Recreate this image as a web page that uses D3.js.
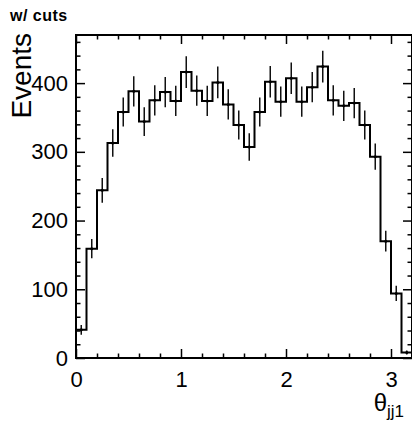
<!DOCTYPE html>
<html lang="en">
  <head>
    <meta charset="utf-8" />
    <title>theta jj1 w/ cuts</title>
    <script src="https://d3js.org/d3.v7.min.js" charset="utf-8"></script>
    <style>
      body { margin: 0; background: #fff; }
      svg { display: block; font-family: "Liberation Sans", Arial, Helvetica, sans-serif; }
      .axis path { stroke: none; }
      .axis line { stroke: #000; stroke-width: 1.5; }
      .axis text { font-size: 22px; fill: #000; }
    </style>
  </head>
  <body>
    <div id="svg-container"></div>
    <script>
      // histogram bins (theta_jj1, 32 bins of 0.1 from 0 to 3.2)
      const binEdgesLow = [0.0, 0.1, 0.2, 0.3, 0.4, 0.5, 0.6, 0.7, 0.8, 0.9,
                           1.0, 1.1, 1.2, 1.3, 1.4, 1.5, 1.6, 1.7, 1.8, 1.9,
                           2.0, 2.1, 2.2, 2.3, 2.4, 2.5, 2.6, 2.7, 2.8, 2.9,
                           3.0, 3.1];
      const binWidth = 0.1;
      const events = [41, 159, 244, 313, 358, 388, 344, 375, 387, 374,
                      416, 389, 374, 401, 369, 339, 307, 358, 402, 373,
                      407, 373, 394, 424, 375, 367, 371, 339, 293, 170,
                      94, 8];
      const errors = [7, 14, 18, 20, 21, 22, 21, 22, 22, 22,
                      23, 22, 22, 23, 22, 21, 20, 21, 23, 22,
                      23, 22, 22, 23, 22, 22, 22, 21, 19, 15,
                      11, 3];
      const xMajorTicks = [0, 1, 2, 3];
      const xMinorTicks = [0.2, 0.4, 0.6, 0.8, 1.2, 1.4, 1.6, 1.8, 2.2, 2.4, 2.6, 2.8, 3.2];
      const yMajorTicks = [0, 100, 200, 300, 400];
      const yMinorTicks = [20, 40, 60, 80, 120, 140, 160, 180, 220, 240, 260, 280,
                           320, 340, 360, 380, 420, 440, 460];

      const W = 412, H = 423;
      const margin = { top: 35, left: 76, right: 0, bottom: 65 };
      const width = 336;
      const height = 323;

      const svg = d3.select("#svg-container")
        .append("svg")
        .attr("width", W)
        .attr("height", H);

      const g = svg.append("g").attr("transform", `translate(${margin.left},${margin.top})`);

      const x = d3.scaleLinear().domain([0, 3.2]).range([0, width]);
      const y = d3.scaleLinear().domain([0, 470]).range([height, 0]);

      // axes: ticks point inward, like ROOT
      const major = 9, minor = 4.5;
      g.append("g").attr("class", "axis").attr("transform", `translate(0,${height})`)
        .call(d3.axisBottom(x).tickValues(xMajorTicks).tickSize(-major).tickPadding(13).tickFormat(d3.format("d")));
      g.append("g").attr("class", "axis").attr("transform", `translate(0,${height})`)
        .call(d3.axisBottom(x).tickValues(xMinorTicks).tickSize(-minor).tickFormat(""));
      g.append("g").attr("class", "axis")
        .call(d3.axisTop(x).tickValues(xMajorTicks).tickSize(-major).tickFormat(""));
      g.append("g").attr("class", "axis")
        .call(d3.axisTop(x).tickValues(xMinorTicks).tickSize(-minor).tickFormat(""));

      g.append("g").attr("class", "axis")
        .call(d3.axisLeft(y).tickValues(yMajorTicks).tickSize(-major).tickPadding(8).tickFormat(d3.format("d")));
      g.append("g").attr("class", "axis")
        .call(d3.axisLeft(y).tickValues(yMinorTicks).tickSize(-minor).tickFormat(""));
      g.append("g").attr("class", "axis").attr("transform", `translate(${width},0)`)
        .call(d3.axisRight(y).tickValues(yMajorTicks).tickSize(-major).tickFormat(""));
      g.append("g").attr("class", "axis").attr("transform", `translate(${width},0)`)
        .call(d3.axisRight(y).tickValues(yMinorTicks).tickSize(-minor).tickFormat(""));

      // histogram outline
      const pts = [[binEdgesLow[0], 0]];
      events.forEach((v, i) => {
        pts.push([binEdgesLow[i], v]);
        pts.push([binEdgesLow[i] + binWidth, v]);
      });
      pts.push([binEdgesLow[binEdgesLow.length - 1] + binWidth, 0]);

      g.append("path")
        .datum(pts)
        .attr("fill", "none")
        .attr("stroke", "#000")
        .attr("stroke-width", 2)
        .attr("d", d3.line().x((d) => x(d[0])).y((d) => y(d[1])));

      // error bars
      g.selectAll("line.err")
        .data(events)
        .join("line")
        .attr("class", "err")
        .attr("x1", (d, i) => x(binEdgesLow[i] + binWidth / 2))
        .attr("x2", (d, i) => x(binEdgesLow[i] + binWidth / 2))
        .attr("y1", (d, i) => y(Math.max(0, d - errors[i])))
        .attr("y2", (d, i) => y(d + errors[i]))
        .attr("stroke", "#111")
        .attr("stroke-width", 1.5);

      g.selectAll("circle.pt")
        .data(events)
        .join("circle")
        .attr("class", "pt")
        .attr("cx", (d, i) => x(binEdgesLow[i] + binWidth / 2))
        .attr("cy", (d) => y(d))
        .attr("r", 1.5)
        .attr("fill", "#000");

      // frame
      g.append("rect")
        .attr("x", 0).attr("y", 0)
        .attr("width", width).attr("height", height)
        .attr("fill", "none")
        .attr("stroke", "#000")
        .attr("stroke-width", 2);

      // titles
      svg.append("text")
        .attr("x", 10).attr("y", 20.5)
        .attr("font-size", 16)
        .attr("font-weight", "bold")
        .attr("letter-spacing", 0.5)
        .text("w/ cuts");

      svg.append("text")
        .attr("transform", "translate(31,33) rotate(-90)")
        .attr("text-anchor", "end")
        .attr("font-size", 28)
        .text("Events");

      const xt = svg.append("text")
        .attr("x", 404).attr("y", 411)
        .attr("text-anchor", "end")
        .attr("font-size", 24)
        .text("θ");
      xt.append("tspan")
        .attr("dy", 6)
        .attr("font-size", 17)
        .text("jj1");
    </script>
  </body>
</html>
